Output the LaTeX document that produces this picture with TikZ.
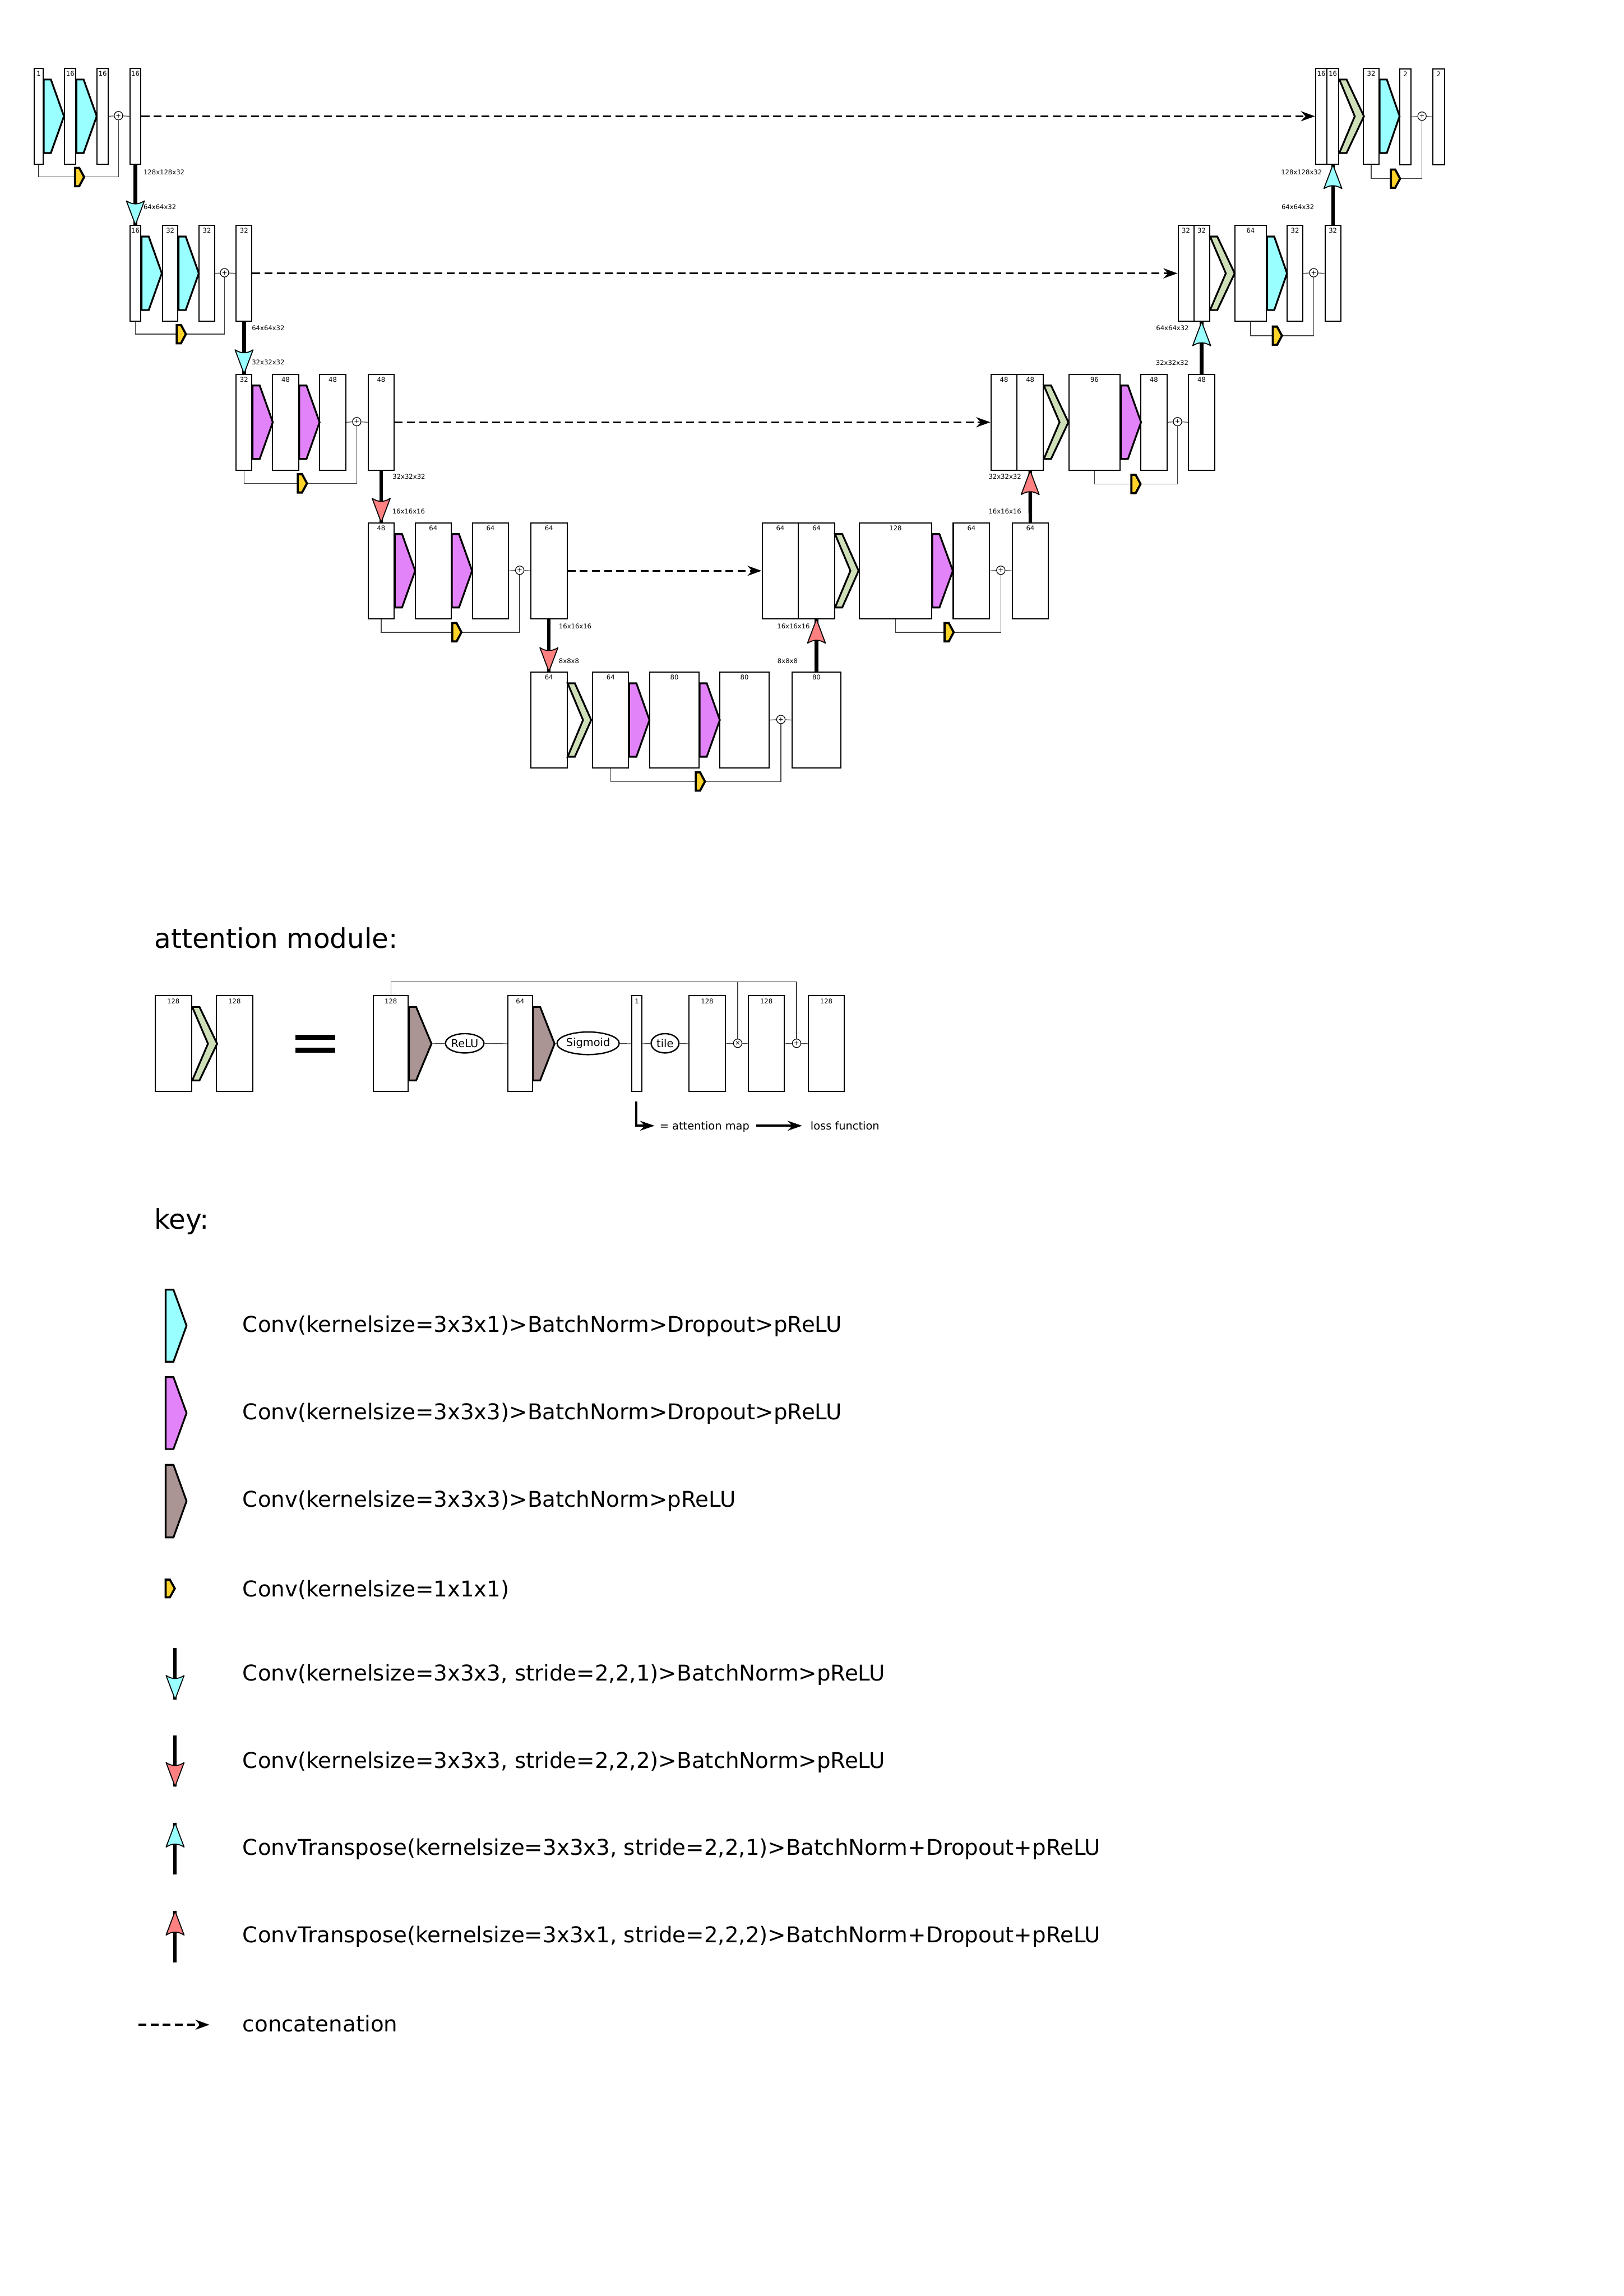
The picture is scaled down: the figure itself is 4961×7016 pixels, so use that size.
\documentclass[tikz,border=0pt]{standalone}
\usepackage{fontspec}
\setmainfont{DejaVu Sans}
\usetikzlibrary{calc,arrows.meta,shapes.geometric}

\definecolor{ccyan}{HTML}{99FFFF}
\definecolor{cmag}{HTML}{E383F9}
\definecolor{cbrown}{HTML}{AA9494}
\definecolor{cgreen}{HTML}{CFE0B9}
\definecolor{cyel}{HTML}{FFD42A}
\definecolor{cred}{HTML}{FF8080}

\def\pxu{0.120441pt}

\tikzset{
 fmap/.style={draw, line width=0.42pt, fill=white, inner sep=0pt, anchor=north west, minimum height=293*\pxu},
 nlbl/.style={font=\fontsize{2.4}{2.9}\selectfont, inner sep=0pt},
 dlbl/.style={font=\fontsize{2.4}{2.9}\selectfont, inner sep=0pt},
 shp/.style={draw=black, line width=0.66pt, line join=miter},
 yshp/.style={draw=black, fill=cyel, line width=0.78pt, line join=miter},
 thinl/.style={draw=black!75, line width=0.25pt},
 sumc/.style={circle, draw, line width=0.25pt, fill=white, minimum size=26*\pxu, inner sep=0pt, font=\fontsize{2.4}{2.4}\selectfont},
 shaft/.style={line width=1.32pt},
 dsh/.style={line width=0.72pt, dash pattern=on 2.9pt off 1.57pt, -{Stealth[length=5.2pt,width=3.7pt]}},
 keytxt/.style={font=\fontsize{8}{9.6}\selectfont, inner sep=0pt, anchor=west},
 ttl/.style={font=\fontsize{10}{12}\selectfont, inner sep=0pt, anchor=base west},
 smtxt/.style={font=\fontsize{4}{4.8}\selectfont, inner sep=0pt},
 ell/.style={ellipse, draw, line width=0.5pt, fill=white, inner sep=0pt, font=\fontsize{4}{4.8}\selectfont},
}

% feature map box: name, xleft, ytop, width, label
\newcommand{\fm}[5]{%
 \node[fmap, minimum width=#4*\pxu] (#1) at (#2,#3) {};
 \node[nlbl] (#1l) at ($(#1.north)+(0,18)$) {#5};}
% conv trapezoid: colour, box, width
\newcommand{\trap}[3]{%
 \filldraw[shp, fill=#1] ($(#2.north east)+(0,36)$) -- ++(22,0) -- ($(#2.east)+(#3,0)$) -- ($(#2.south east)+(22,-36)$) -- ++(-22,0) -- cycle;}
% attention chevron: box, width, inner vertex
\newcommand{\chev}[3]{%
 \filldraw[shp, fill=cgreen] ($(#1.north east)+(0,36)$) -- ++(22,0) -- ($(#1.east)+(#2,0)$) -- ($(#1.south east)+(22,-36)$) -- ++(-22,0) -- ($(#1.east)+(#3,0)$) -- cycle;}
% residual skip: name, source box, x of 1x1 conv, y, sum circle
\newcommand{\skipc}[5]{%
 \coordinate (#1i) at (#3,#4); \coordinate (#1o) at (#3+28,#4);
 \draw[thinl] (#2.south) |- (#1i);
 \draw[thinl] (#1o) -| (#5.south);
 \filldraw[yshp] (#1i) ++(0,-28) -- ++(13,0) -- (#1o) -- ++(-15,28) -- ++(-13,0) -- cycle;}
% arrow heads
\newcommand{\headdown}[2]{%
 \filldraw[fill=#1, draw=black, line width=0.36pt, line join=round] (#2) -- ($(#2)+(-27.5,-73)$) .. controls ($(#2)+(-9,-61)$) and ($(#2)+(9,-61)$) .. ($(#2)+(27.5,-73)$) -- cycle;}
\newcommand{\headup}[2]{%
 \filldraw[fill=#1, draw=black, line width=0.36pt, line join=round] (#2) -- ($(#2)+(-27.5,73)$) .. controls ($(#2)+(-9,61)$) and ($(#2)+(9,61)$) .. ($(#2)+(27.5,73)$) -- cycle;}

\begin{document}
\begin{tikzpicture}[x=0.120441pt, y=-0.120441pt]
\useasboundingbox (0,0) rectangle (4961,7016);
\fill[white] (0,0) rectangle (4961,7016);

% ================= Level 1 encoder
\fm{b1a}{103}{207}{27}{1}
\fm{b1b}{196}{207}{34}{16}
\fm{b1c}{295}{207}{34}{16}
\fm{b1d}{395}{207}{34}{16}
\node[sumc] (c1) at (362,353.5) {+};
\draw[thinl] (b1c.east) -- (c1) -- (b1d.west);
\trap{ccyan}{b1a}{62}
\trap{ccyan}{b1b}{62}
\skipc{s1}{b1a}{229}{541}{c1}

% ================= Level 2 encoder
\fm{b2a}{395}{687}{34}{16}
\fm{b2b}{495}{687}{47}{32}
\fm{b2c}{607}{687}{47}{32}
\fm{b2d}{720}{687}{48}{32}
\node[sumc] (c2) at (686,833.5) {+};
\draw[thinl] (b2c.east) -- (c2) -- (b2d.west);
\trap{ccyan}{b2a}{62}
\trap{ccyan}{b2b}{62}
\skipc{s2}{b2a}{540}{1021}{c2}

% ================= Level 3 encoder
\fm{b3a}{720}{1142}{48}{32}
\fm{b3b}{831}{1142}{80}{48}
\fm{b3c}{975}{1142}{80}{48}
\fm{b3d}{1123}{1142}{80}{48}
\node[sumc] (c3) at (1090,1288.5) {+};
\draw[thinl] (b3c.east) -- (c3) -- (b3d.west);
\trap{cmag}{b3a}{62}
\trap{cmag}{b3b}{62}
\skipc{s3}{b3a}{910}{1477}{c3}

% ================= Level 4 encoder
\fm{b4a}{1123}{1596}{80}{48}
\fm{b4b}{1267}{1596}{110}{64}
\fm{b4c}{1442}{1596}{110}{64}
\fm{b4d}{1620}{1596}{111}{64}
\node[sumc] (c4) at (1588,1742.5) {+};
\draw[thinl] (b4c.east) -- (c4) -- (b4d.west);
\trap{cmag}{b4a}{62}
\trap{cmag}{b4b}{62}
\skipc{s4}{b4a}{1382}{1932}{c4}

% ================= Level 5 (bottom)
\fm{b5a}{1620}{2052}{111}{64}
\fm{b5b}{1809}{2052}{110}{64}
\fm{b5c}{1984}{2052}{150}{80}
\fm{b5d}{2198}{2052}{150}{80}
\fm{b5e}{2418}{2052}{150}{80}
\node[sumc] (c5) at (2386,2198.5) {+};
\draw[thinl] (b5d.east) -- (c5) -- (b5e.west);
\chev{b5a}{72}{47}
\trap{cmag}{b5b}{62}
\trap{cmag}{b5c}{62}
\skipc{s5}{b5b}{2126}{2388}{c5}

% ================= Level 4 decoder
\fm{b4e}{2327}{1596}{111}{64}
\fm{b4f}{2438}{1596}{110}{64}
\fm{b4g}{2624}{1596}{221}{128}
\fm{b4h}{2911}{1596}{111}{64}
\fm{b4i}{3091}{1596}{111}{64}
\node[sumc] (c4r) at (3058,1742.5) {+};
\draw[thinl] (b4h.east) -- (c4r) -- (b4i.west);
\chev{b4f}{72}{47}
\trap{cmag}{b4g}{63}
\skipc{s4r}{b4g}{2886}{1932}{c4r}

% ================= Level 3 decoder
\fm{b3e}{3026}{1142}{80}{48}
\fm{b3f}{3106}{1142}{80}{48}
\fm{b3g}{3264}{1142}{157}{96}
\fm{b3h}{3484}{1142}{80}{48}
\fm{b3i}{3630}{1142}{80}{48}
\node[sumc] (c3r) at (3598,1288.5) {+};
\draw[thinl] (b3h.east) -- (c3r) -- (b3i.west);
\chev{b3f}{75}{48}
\trap{cmag}{b3g}{62}
\skipc{s3r}{b3g}{3457}{1479}{c3r}

% ================= Level 2 decoder
\fm{b2e}{3598}{687}{48}{32}
\fm{b2f}{3646}{687}{48}{32}
\fm{b2g}{3771}{687}{97}{64}
\fm{b2h}{3931}{687}{48}{32}
\fm{b2i}{4047}{687}{48}{32}
\node[sumc] (c2r) at (4014,833.5) {+};
\draw[thinl] (b2h.east) -- (c2r) -- (b2i.west);
\chev{b2f}{75}{48}
\trap{ccyan}{b2g}{61}
\skipc{s2r}{b2g}{3889}{1026}{c2r}

% ================= Level 1 decoder
\fm{b1e}{4018}{207}{35}{16}
\fm{b1f}{4053}{207}{36}{16}
\fm{b1g}{4164}{207}{48}{32}
\fm{b1h}{4275}{209}{35}{2}
\fm{b1i}{4377}{209}{35}{2}
\node[sumc] (c1r) at (4345,355) {+};
\draw[thinl] (b1h.east) -- (c1r) -- (b1i.west);
\chev{b1f}{75}{47}
\trap{ccyan}{b1g}{61}
\skipc{s1r}{b1g}{4250}{546}{c1r}

% ================= skip concatenations
\draw[dsh] (b1d.east) -- (b1e.west);
\draw[dsh] (b2d.east) -- (b2e.west);
\draw[dsh] (b3d.east) -- (b3e.west);
\draw[dsh] (b4d.east) -- (b4e.west);

% ================= down / up sampling
\draw[shaft] (b1d.south) -- (b2a.north); \headdown{ccyan}{b2a.north}
\draw[shaft] (b2d.south) -- (b3a.north); \headdown{ccyan}{b3a.north}
\draw[shaft] (b3d.south) -- (b4a.north); \headdown{cred}{b4a.north}
\draw[shaft] (b4d.south) -- (b5a.north); \headdown{cred}{b5a.north}
\draw[shaft] (b5e.north) -- (b4f.south); \headup{cred}{b4f.south}
\draw[shaft] (b4i.north) -- (b3f.south); \headup{cred}{b3f.south}
\draw[shaft] (b3i.north) -- (b2f.south); \headup{ccyan}{b2f.south}
\draw[shaft] (b2i.north) -- (b1f.south); \headup{ccyan}{b1f.south}

% sizes
\node[dlbl, anchor=west] (d1a) at (437,527) {128x128x32};
\node[dlbl, anchor=west] (d1b) at (437,632) {64x64x32};
\node[dlbl, anchor=west] (d2a) at (768,1002) {64x64x32};
\node[dlbl, anchor=west] (d2b) at (768,1107) {32x32x32};
\node[dlbl, anchor=west] (d3a) at (1198,1457) {32x32x32};
\node[dlbl, anchor=west] (d3b) at (1197,1563) {16x16x16};
\node[dlbl, anchor=west] (d4a) at (1706,1913) {16x16x16};
\node[dlbl, anchor=west] (d4b) at (1706,2020) {8x8x8};
\node[dlbl, anchor=east] (u4b) at (2439,2020) {8x8x8};
\node[dlbl, anchor=east] (u4a) at (2476,1913) {16x16x16};
\node[dlbl, anchor=east] (u3b) at (3122,1563) {16x16x16};
\node[dlbl, anchor=east] (u3a) at (3122,1457) {32x32x32};
\node[dlbl, anchor=east] (u2b) at (3633,1108) {32x32x32};
\node[dlbl, anchor=east] (u2a) at (3634,1002) {64x64x32};
\node[dlbl, anchor=east] (u1b) at (4017,632) {64x64x32};
\node[dlbl, anchor=east] (u1a) at (4041,527) {128x128x32};

% ================= attention module
\node[ttl] (atitle) at (470,2897) {attention module:};
\fm{A1}{472}{3041}{112}{128}
\fm{A2}{660}{3041}{110}{128}
\chev{A1}{76}{48}
\fill (902,3162) rectangle (1024,3177);
\fill (902,3201) rectangle (1024,3217);
\fm{A3}{1139}{3041}{107}{128}
\fm{A4}{1550}{3041}{75}{64}
\fm{A5}{1928}{3041}{32}{1}
\fm{A6}{2104}{3041}{110}{128}
\fm{A7}{2285}{3041}{110}{128}
\fm{A8}{2468}{3041}{110}{128}
\coordinate (tA3) at ($(A3.east)+(69,0)$);
\coordinate (tA4) at ($(A4.east)+(66,0)$);
\node[ell, minimum width=103*\pxu, minimum height=59*\pxu] (relu) at (1420,3188) {ReLU};
\node[ell, minimum width=153*\pxu, minimum height=69*\pxu] (sigm) at (1797,3188) {Sigmoid};
\node[ell, minimum width=85*\pxu, minimum height=59*\pxu] (tile) at (2032,3188) {tile};
\node[sumc] (timesA) at (2254,3188) {×};
\node[sumc] (plusA) at (2434,3188) {+};
\draw[thinl] (tA3) -- (relu) -- (A4.west);
\draw[thinl] (tA4) -- (sigm) -- (A5.west);
\draw[thinl] (A5.east) -- (tile) -- (A6.west);
\draw[thinl] (A6.east) -- (timesA) -- (A7.west);
\draw[thinl] (A7.east) -- (plusA) -- (A8.west);
\coordinate (tp) at ($(A3.north)+(0,-41)$);
\draw[thinl] (A3.north) -- (tp) -| (plusA.north);
\draw[thinl] (timesA.north) -- (timesA.north |- tp);
\trap{cbrown}{A3}{69}
\trap{cbrown}{A4}{66}

% attention map legend
\coordinate (am1) at ($(A5.south)+(-2,29)$);
\coordinate (am2) at (2000,3440);
\draw[line width=0.84pt, -{Stealth[length=5.3pt,width=3.6pt]}] (am1) |- (am2);
\node[smtxt, anchor=base west] (amt) at (2014,3452) {= attention map};
\coordinate (lf1) at (2311,3440);
\coordinate (lf2) at (2451,3440);
\draw[line width=0.84pt, -{Stealth[length=5.3pt,width=3.6pt]}] (lf1) -- (lf2);
\node[smtxt, anchor=base west] (lft) at (2475,3452) {loss function};

% ================= key
\node[ttl] (ktitle) at (470,3755) {key:};
\filldraw[shp, fill=ccyan] (506,3941) -- (530,3941) -- (570,4051) -- (530,4161) -- (506,4161) -- cycle;
\filldraw[shp, fill=cmag] (506,4208) -- (530,4208) -- (570,4318) -- (530,4428) -- (506,4428) -- cycle;
\filldraw[shp, fill=cbrown] (506,4476) -- (530,4476) -- (570,4587) -- (530,4698) -- (506,4698) -- cycle;
\filldraw[yshp] (506,4827) -- (519,4827) -- (534,4854) -- (519,4881) -- (506,4881) -- cycle;

\coordinate (k5s) at (535,5036); \coordinate (k5t) at (535,5193);
\draw[line width=1.2pt] (k5s) -- (k5t); \headdown{ccyan}{k5t}
\coordinate (k6s) at (535,5303); \coordinate (k6t) at (535,5459);
\draw[line width=1.2pt] (k6s) -- (k6t); \headdown{cred}{k6t}
\coordinate (k7s) at (535,5728); \coordinate (k7t) at (535,5571);
\draw[line width=1.2pt] (k7s) -- (k7t); \headup{ccyan}{k7t}
\coordinate (k8s) at (535,5997); \coordinate (k8t) at (535,5840);
\draw[line width=1.2pt] (k8s) -- (k8t); \headup{cred}{k8t}
\coordinate (k9s) at (423,6187); \coordinate (k9t) at (640,6187);
\draw[dsh] (k9s) -- (k9t);

\node[keytxt] (kt1) at (740,4052) {Conv(kernelsize=3x3x1)>BatchNorm>Dropout>pReLU};
\node[keytxt] (kt2) at (740,4320) {Conv(kernelsize=3x3x3)>BatchNorm>Dropout>pReLU};
\node[keytxt] (kt3) at (740,4587) {Conv(kernelsize=3x3x3)>BatchNorm>pReLU};
\node[keytxt] (kt4) at (740,4858) {Conv(kernelsize=1x1x1)};
\node[keytxt] (kt5) at (740,5117) {Conv(kernelsize=3x3x3, stride=2,2,1)>BatchNorm>pReLU};
\node[keytxt] (kt6) at (740,5385) {Conv(kernelsize=3x3x3, stride=2,2,2)>BatchNorm>pReLU};
\node[keytxt] (kt7) at (740,5651) {ConvTranspose(kernelsize=3x3x3, stride=2,2,1)>BatchNorm+Dropout+pReLU};
\node[keytxt] (kt8) at (740,5918) {ConvTranspose(kernelsize=3x3x1, stride=2,2,2)>BatchNorm+Dropout+pReLU};
\node[keytxt] (kt9) at (740,6184) {concatenation};
\end{tikzpicture}
\end{document}
